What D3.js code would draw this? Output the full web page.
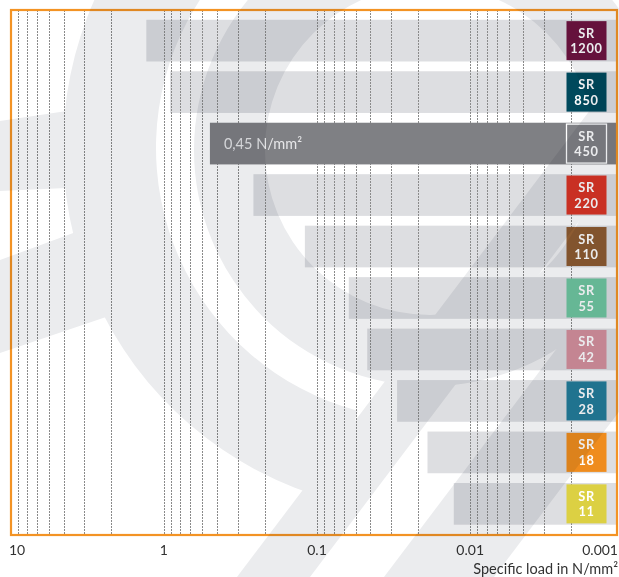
<!DOCTYPE html>
<html><head><meta charset="utf-8">
<script src="https://cdn.jsdelivr.net/npm/d3@7"></script>
<style>
html,body{margin:0;padding:0;background:#fff;}
svg{display:block;}
</style></head>
<body>
<svg id="chart" width="619" height="577"></svg>
<script>
// ---- data ----
const categories   = ["SR 1200","SR 850","SR 450","SR 220","SR 110","SR 55","SR 42","SR 28","SR 18","SR 11"];
const badgeNumbers = ["1200","850","450","220","110","55","42","28","18","11"];
const maxLoad      = [1.3, 0.91, 0.5, 0.26, 0.12, 0.062, 0.047, 0.03, 0.019, 0.0128];
const badgeColors  = ["#6d1340","#00495c","#808185","#da3425","#8d5b31","#6fc6a0","#d5909d","#227c99","#ef8c1e","#dcd043"];
const highlighted  = "SR 450";
const highlightLabel = "0,45 N/mm²";
const tickValues   = [10, 1, 0.1, 0.01, 0.001];
const tickLabels   = ["10", "1", "0.1", "0.01", "0.001"];
const decadeStarts = [10, 1, 0.1, 0.01];
const gridFactors  = [0.9, 0.78, 0.67, 0.56, 0.45, 0.33, 0.22];
const axisTitle    = "Specific load in N/mm²";

// ---- layout ----
const plot = {left: 11, right: 617, top: 10, bottom: 535};
const svg = d3.select("#chart");

const x = d3.scaleLog().domain([10, 0.001]).range([10.6, 623.4]);
const y = d3.scaleBand().domain(categories).range([9.5, 535]).paddingInner(0.19).paddingOuter(0.2);

svg.append("defs").append("clipPath").attr("id","plotclip")
  .append("rect").attr("x",plot.left).attr("y",plot.top)
  .attr("width",plot.right-plot.left).attr("height",plot.bottom-plot.top);

const data = categories.map((c,i)=>({cat:c, num:badgeNumbers[i], v:maxLoad[i], color:badgeColors[i]}));

const g = svg.append("g").attr("clip-path","url(#plotclip)");

// light bars
g.selectAll("rect.bar").data(data.filter(d=>d.cat!==highlighted)).join("rect")
  .attr("class","bar")
  .attr("x", d=>x(d.v)).attr("y", d=>y(d.cat))
  .attr("width", d=>plot.right - x(d.v)).attr("height", y.bandwidth())
  .attr("fill","#dddee1");

// grid lines
const gridVals = [];
decadeStarts.forEach(d=>{ if(d!==10) gridVals.push(d); gridFactors.forEach(f=>gridVals.push(d*f)); });
g.selectAll("line.grid").data(gridVals).join("line")
  .attr("class","grid")
  .attr("x1", d=>Math.round(x(d))+0.5).attr("x2", d=>Math.round(x(d))+0.5)
  .attr("y1", plot.top).attr("y2", plot.bottom)
  .attr("stroke","#8a8a8a").attr("stroke-width",1).attr("stroke-dasharray","2,1");

// highlighted bar
const hd = data.filter(d=>d.cat===highlighted);
g.selectAll("rect.hbar").data(hd).join("rect")
  .attr("class","hbar")
  .attr("x", d=>x(d.v)).attr("y", d=>y(d.cat))
  .attr("width", d=>plot.right - x(d.v)).attr("height", y.bandwidth())
  .attr("fill","#7f8084");
g.selectAll("text.hlabel").data(hd).join("text")
  .attr("class","hlabel")
  .attr("x", d=>x(d.v)+14).attr("y", d=>y(d.cat)+y.bandwidth()/2+5)
  .attr("font-family","Lato, 'Open Sans', sans-serif").attr("font-weight",400)
  .attr("font-size",14.5).attr("fill","#e6e6e8")
  .text(highlightLabel);

// badges
const bx = 586.5, bw = 40, bh = 39;
const badges = g.selectAll("g.badge").data(data).join("g").attr("class","badge")
  .attr("transform", d=>`translate(${bx},${y(d.cat)+y.bandwidth()/2})`);
badges.append("rect")
  .attr("x",-bw/2).attr("y",-bh/2).attr("width",bw).attr("height",bh)
  .attr("fill", d=>d.color)
  .attr("stroke", d=>d.cat===highlighted ? "#ffffff" : "none")
  .attr("stroke-width", 1.3);
badges.append("text").attr("text-anchor","middle").attr("y",-3)
  .attr("font-family","Lato, sans-serif").attr("font-weight",700).attr("font-size",12.8)
  .attr("letter-spacing",0.7).attr("fill","#fff").text("SR");
badges.append("text").attr("text-anchor","middle").attr("y",12.6)
  .attr("font-family","Lato, sans-serif").attr("font-weight",700).attr("font-size",12.8)
  .attr("letter-spacing",0.7).attr("fill","#fff").text(d=>d.num);

// border
svg.append("rect").attr("x",plot.left).attr("y",plot.top)
  .attr("width",plot.right-plot.left).attr("height",plot.bottom-plot.top)
  .attr("fill","none").attr("stroke","#f39324").attr("stroke-width",2.2);

// tick labels
const tl = svg.selectAll("text.tick").data(tickValues).join("text")
  .attr("class","tick")
  .attr("x", d=>x(d)).attr("y", 555)
  .attr("text-anchor","middle")
  .attr("font-family","Lato, 'Open Sans', sans-serif").attr("font-weight",400)
  .attr("font-size",14).attr("fill","#333")
  .text((d,i)=>tickLabels[i]);
tl.each(function(){
  const b = this.getBBox();
  if (b.x < 9) d3.select(this).attr("text-anchor","start").attr("x", 9);
  if (b.x + b.width > 618) d3.select(this).attr("text-anchor","end").attr("x", 618);
});

svg.append("text").attr("x",618).attr("y",574).attr("text-anchor","end")
  .attr("font-family","Lato, 'Open Sans', sans-serif").attr("font-weight",400)
  .attr("font-size",14.5).attr("fill","#333").text(axisTitle);

// watermark (decorative logo), multiplied over everything
const wm = svg.append("g").style("mix-blend-mode","multiply").attr("fill","#ebecee");
const deg = Math.PI/180;
wm.append("path").attr("transform","translate(428,148)")
  .attr("d", d3.arc()({innerRadius:272, outerRadius:365, startAngle:195*deg, endAngle:400*deg}));
wm.append("path").attr("transform","translate(430,150)")
  .attr("d", d3.arc()({innerRadius:165, outerRadius:236, startAngle:0, endAngle:360*deg}));
const k = 0.756;
function stripe(a, b){
  const y0 = 600, y1 = -60;
  return [[a+(577-y0)*k,y0],[b+(577-y0)*k,y0],[b+(577-y1)*k,y1],[a+(577-y1)*k,y1]];
}
wm.append("polygon").attr("points", stripe(237,310).join(" "));
wm.append("polygon").attr("points", stripe(384,494).join(" "));
wm.append("polygon").attr("points", [[0,121],[80,109],[66,188],[0,191]].join(" "));
wm.append("polygon").attr("points", [[0,260],[76,232],[88,280],[106,317],[0,353]].join(" "));
</script>
</body></html>
